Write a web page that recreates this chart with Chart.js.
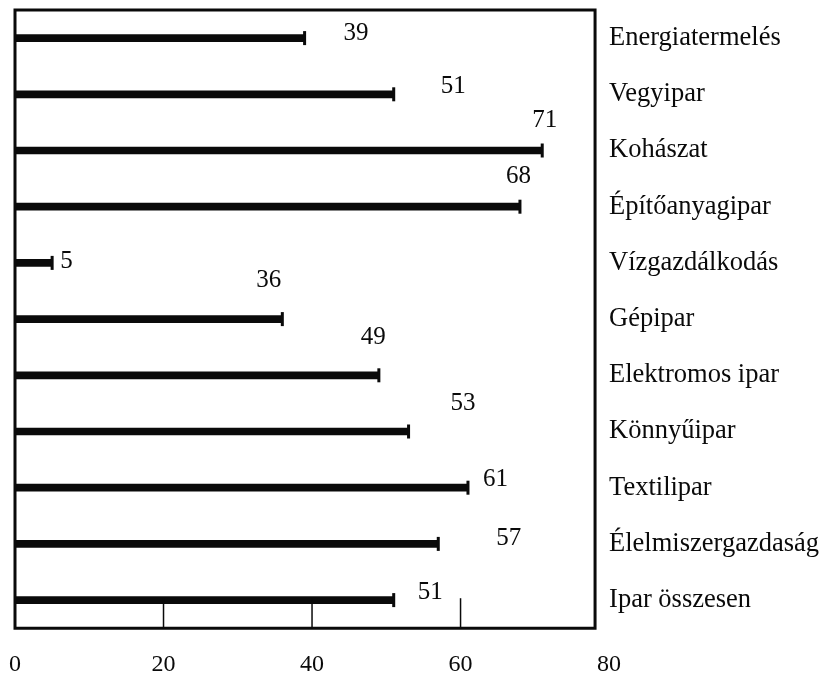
<!DOCTYPE html>
<html>
<head>
<meta charset="utf-8">
<script src="https://cdn.jsdelivr.net/npm/chart.js@4"></script>
<style>
    html, body { margin: 0; padding: 0; background: #fff; }
    #wrap { width: 823px; height: 686px; }
</style>
</head>
<body>
<div id="wrap"><canvas id="chart"></canvas></div>
<script>
// Categories, top to bottom
const categories = ['Energiatermelés', 'Vegyipar', 'Kohászat', 'Építőanyagipar', 'Vízgazdálkodás', 'Gépipar',
    'Elektromos ipar', 'Könnyűipar', 'Textilipar', 'Élelmiszergazdaság', 'Ipar összesen'];
const values = [39, 51, 71, 68, 5, 36, 49, 53, 61, 57, 51];
const tickValues = [0, 20, 40, 60, 80];

// where each value label sits relative to the end of its bar (px)
const labelNudge = [[39, -5], [47, -8], [-10, -30], [-14, -30], [8, -1], [-26, -39],
    [-18, -38], [42, -28], [15, -8], [58, -5], [24, -8]];

const ink = '#0a0a0a';
const serif = '"Liberation Serif", "DejaVu Serif", serif';

// frame, end caps, inner ticks and value labels
const decorations = {
    id: 'decorations',
    afterDatasetsDraw(chart) {
        const { ctx, chartArea: a, scales: { x } } = chart;
        ctx.save();
        ctx.strokeStyle = ink;
        ctx.fillStyle = ink;

        // box round the bars (right side stops short of 80)
        ctx.lineWidth = 3;
        ctx.beginPath();
        ctx.moveTo(a.left, a.top);
        ctx.lineTo(a.right - 14, a.top);
        ctx.lineTo(a.right - 14, a.bottom);
        ctx.lineTo(a.left, a.bottom);
        ctx.closePath();
        ctx.stroke();

        // small ticks pointing up from the bottom edge
        ctx.lineWidth = 1.5;
        [20, 40, 60].forEach(v => {
            const px = x.getPixelForValue(v);
            ctx.beginPath();
            ctx.moveTo(px, a.bottom);
            ctx.lineTo(px, a.bottom - 30);
            ctx.stroke();
        });

        const meta = chart.getDatasetMeta(0);
        ctx.font = '25px ' + serif;
        ctx.textBaseline = 'middle';
        ctx.textAlign = 'left';
        meta.data.forEach((bar, i) => {
            ctx.fillRect(bar.x - 1.5, bar.y - 7, 3, 14);
            ctx.fillText(String(values[i]), bar.x + labelNudge[i][0], bar.y + labelNudge[i][1]);
        });
        ctx.restore();
    }
};

new Chart(document.getElementById('chart'), {
    type: 'bar',
    data: {
        labels: categories,
        datasets: [{
            data: values,
            backgroundColor: ink,
            barThickness: 7,
            borderWidth: 0
        }]
    },
    options: {
        indexAxis: 'y',
        responsive: true,
        maintainAspectRatio: false,
        animation: false,
        events: [],
        layout: { padding: { top: 10, left: 15, right: 4, bottom: 5 } },
        plugins: { legend: { display: false }, tooltip: { enabled: false } },
        scales: {
            x: {
                min: 0,
                max: 80,
                afterBuildTicks: scale => { scale.ticks = tickValues.map(v => ({ value: v })); },
                grid: { display: false, drawTicks: true, tickLength: 20 },
                border: { display: false },
                ticks: { color: ink, padding: 2, font: { family: serif, size: 24 } }
            },
            y: {
                position: 'right',
                grid: { display: false, drawTicks: false },
                border: { display: false },
                ticks: { color: ink, padding: 0, font: { family: serif, size: 26.5, lineHeight: 0.7 } }
            }
        }
    },
    plugins: [decorations]
});
</script>
</body>
</html>
